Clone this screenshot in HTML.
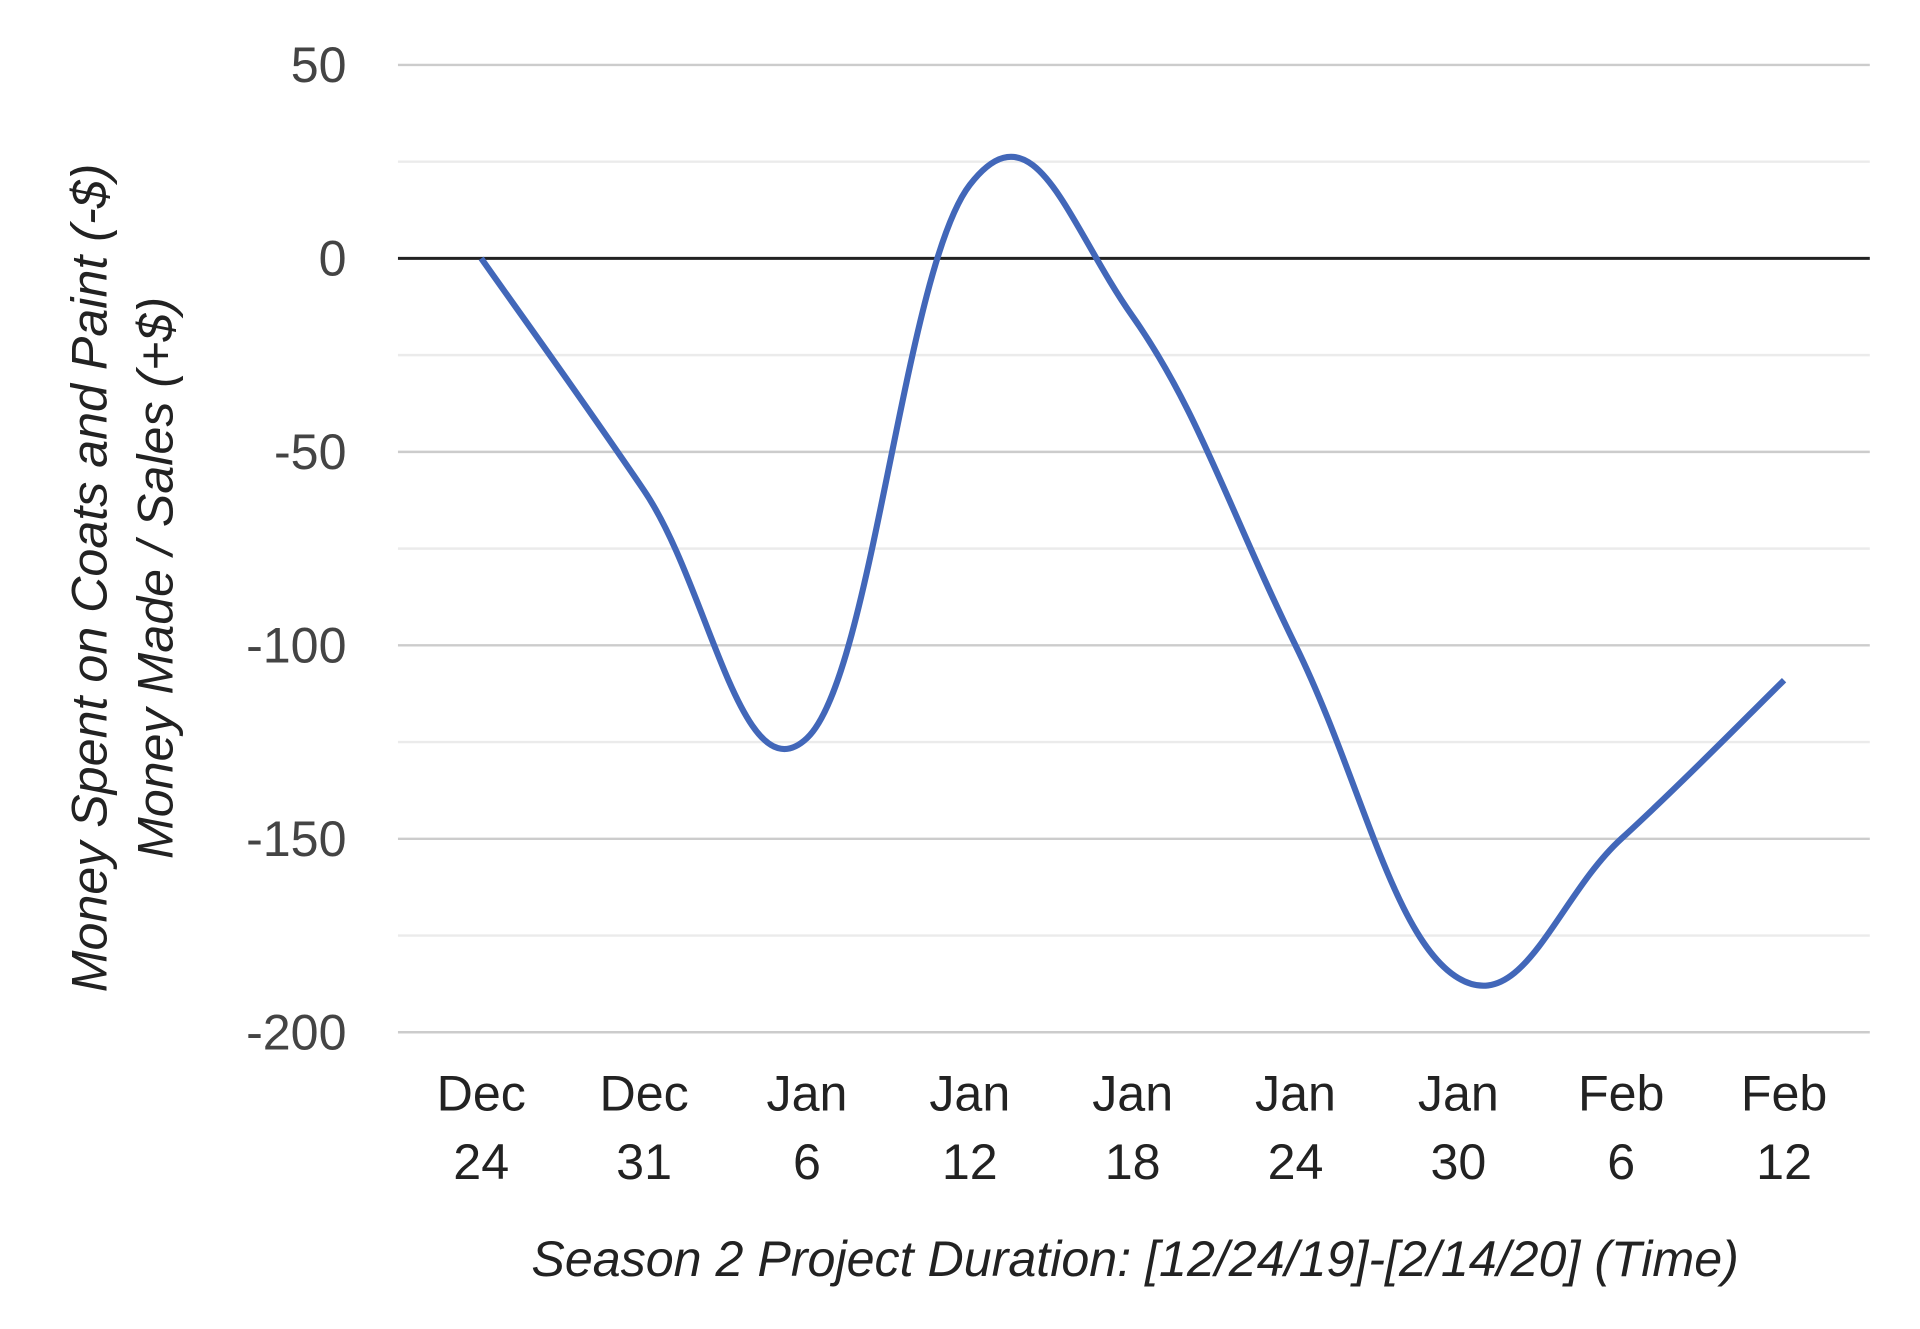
<!DOCTYPE html>
<html><head><meta charset="utf-8"><style>
html,body{margin:0;padding:0;background:#fff;}
svg{display:block;}
text{font-family:"Liberation Sans",Arial,sans-serif;}
</style></head><body>
<svg id="chart" width="1920" height="1329" viewBox="0 0 1568 1085.3" xmlns="http://www.w3.org/2000/svg">
<g id="grid"></g><g id="axes"></g><g id="series"></g>
<text x="927" y="1042" text-anchor="middle" font-size="41" font-style="italic" fill="#222">Season 2 Project Duration: [12/24/19]-[2/14/20] (Time)</text>
<g transform="translate(87,472) rotate(-90)"><text x="0" y="0" text-anchor="middle" font-size="41" font-style="italic" fill="#222">Money Spent on Coats and Paint (-$)</text></g>
<g transform="translate(141,472) rotate(-90)"><text x="0" y="0" text-anchor="middle" font-size="41" font-style="italic" fill="#222">Money Made / Sales (+$)</text></g>
</svg>
<script>
const categories=[["Dec","24"],["Dec","31"],["Jan","6"],["Jan","12"],["Jan","18"],["Jan","24"],["Jan","30"],["Feb","6"],["Feb","12"]];
const values=[0,-60,-124,19,-15,-100,-186,-150,-109];
const yTicks=[50,0,-50,-100,-150,-200];
const NS="http://www.w3.org/2000/svg";
const L=325,R=1527,x0=393,dx=133;
function xs(i){return x0+i*dx;}
function ys(v){return 211-(v*158/50);}
function mk(tag,attrs,parent){const e=document.createElementNS(NS,tag);for(const k in attrs)e.setAttribute(k,attrs[k]);parent.appendChild(e);return e;}
const grid=document.getElementById('grid'),axes=document.getElementById('axes'),ser=document.getElementById('series');
for(let v=50;v>=-200;v-=25){
  const major=v%50===0;
  const ln=mk('line',{x1:L,x2:R,y1:ys(v),y2:ys(v),stroke:v===0?'#222':(major?'#ccc':'#ebebeb'),'stroke-width':v===0?2.5:2},v===0?axes:grid);
  
  
}
yTicks.forEach(v=>{
  const t=mk('text',{x:283,y:ys(v)+14,'text-anchor':'end','font-size':41,fill:'#444'},axes);
  t.textContent=v;
  
  
});
categories.forEach((c,i)=>{
  const t=mk('text',{x:xs(i),y:907,'text-anchor':'middle','font-size':41,fill:'#222'},axes);
  
  
  const a=mk('tspan',{x:xs(i),dy:0},t);a.textContent=c[0];
  const b=mk('tspan',{x:xs(i),dy:56},t);b.textContent=c[1];
});
const pts=values.map((v,i)=>[xs(i),ys(v)]);
let d='M'+pts[0][0]+','+pts[0][1];
for(let i=0;i<pts.length-1;i++){
  const p0=pts[Math.max(i-1,0)],p1=pts[i],p2=pts[i+1],p3=pts[Math.min(i+2,pts.length-1)];
  const k=1/5;
  const c1=[p1[0]+(p2[0]-p0[0])*k,p1[1]+(p2[1]-p0[1])*k];
  const c2=[p2[0]-(p3[0]-p1[0])*k,p2[1]-(p3[1]-p1[1])*k];
  d+=' C'+c1.join(',')+' '+c2.join(',')+' '+p2.join(',');
}
const path=mk('path',{d:d,fill:'none',stroke:'#4267b9','stroke-width':5,'stroke-linejoin':'round'},ser);


</script>
</body></html>
